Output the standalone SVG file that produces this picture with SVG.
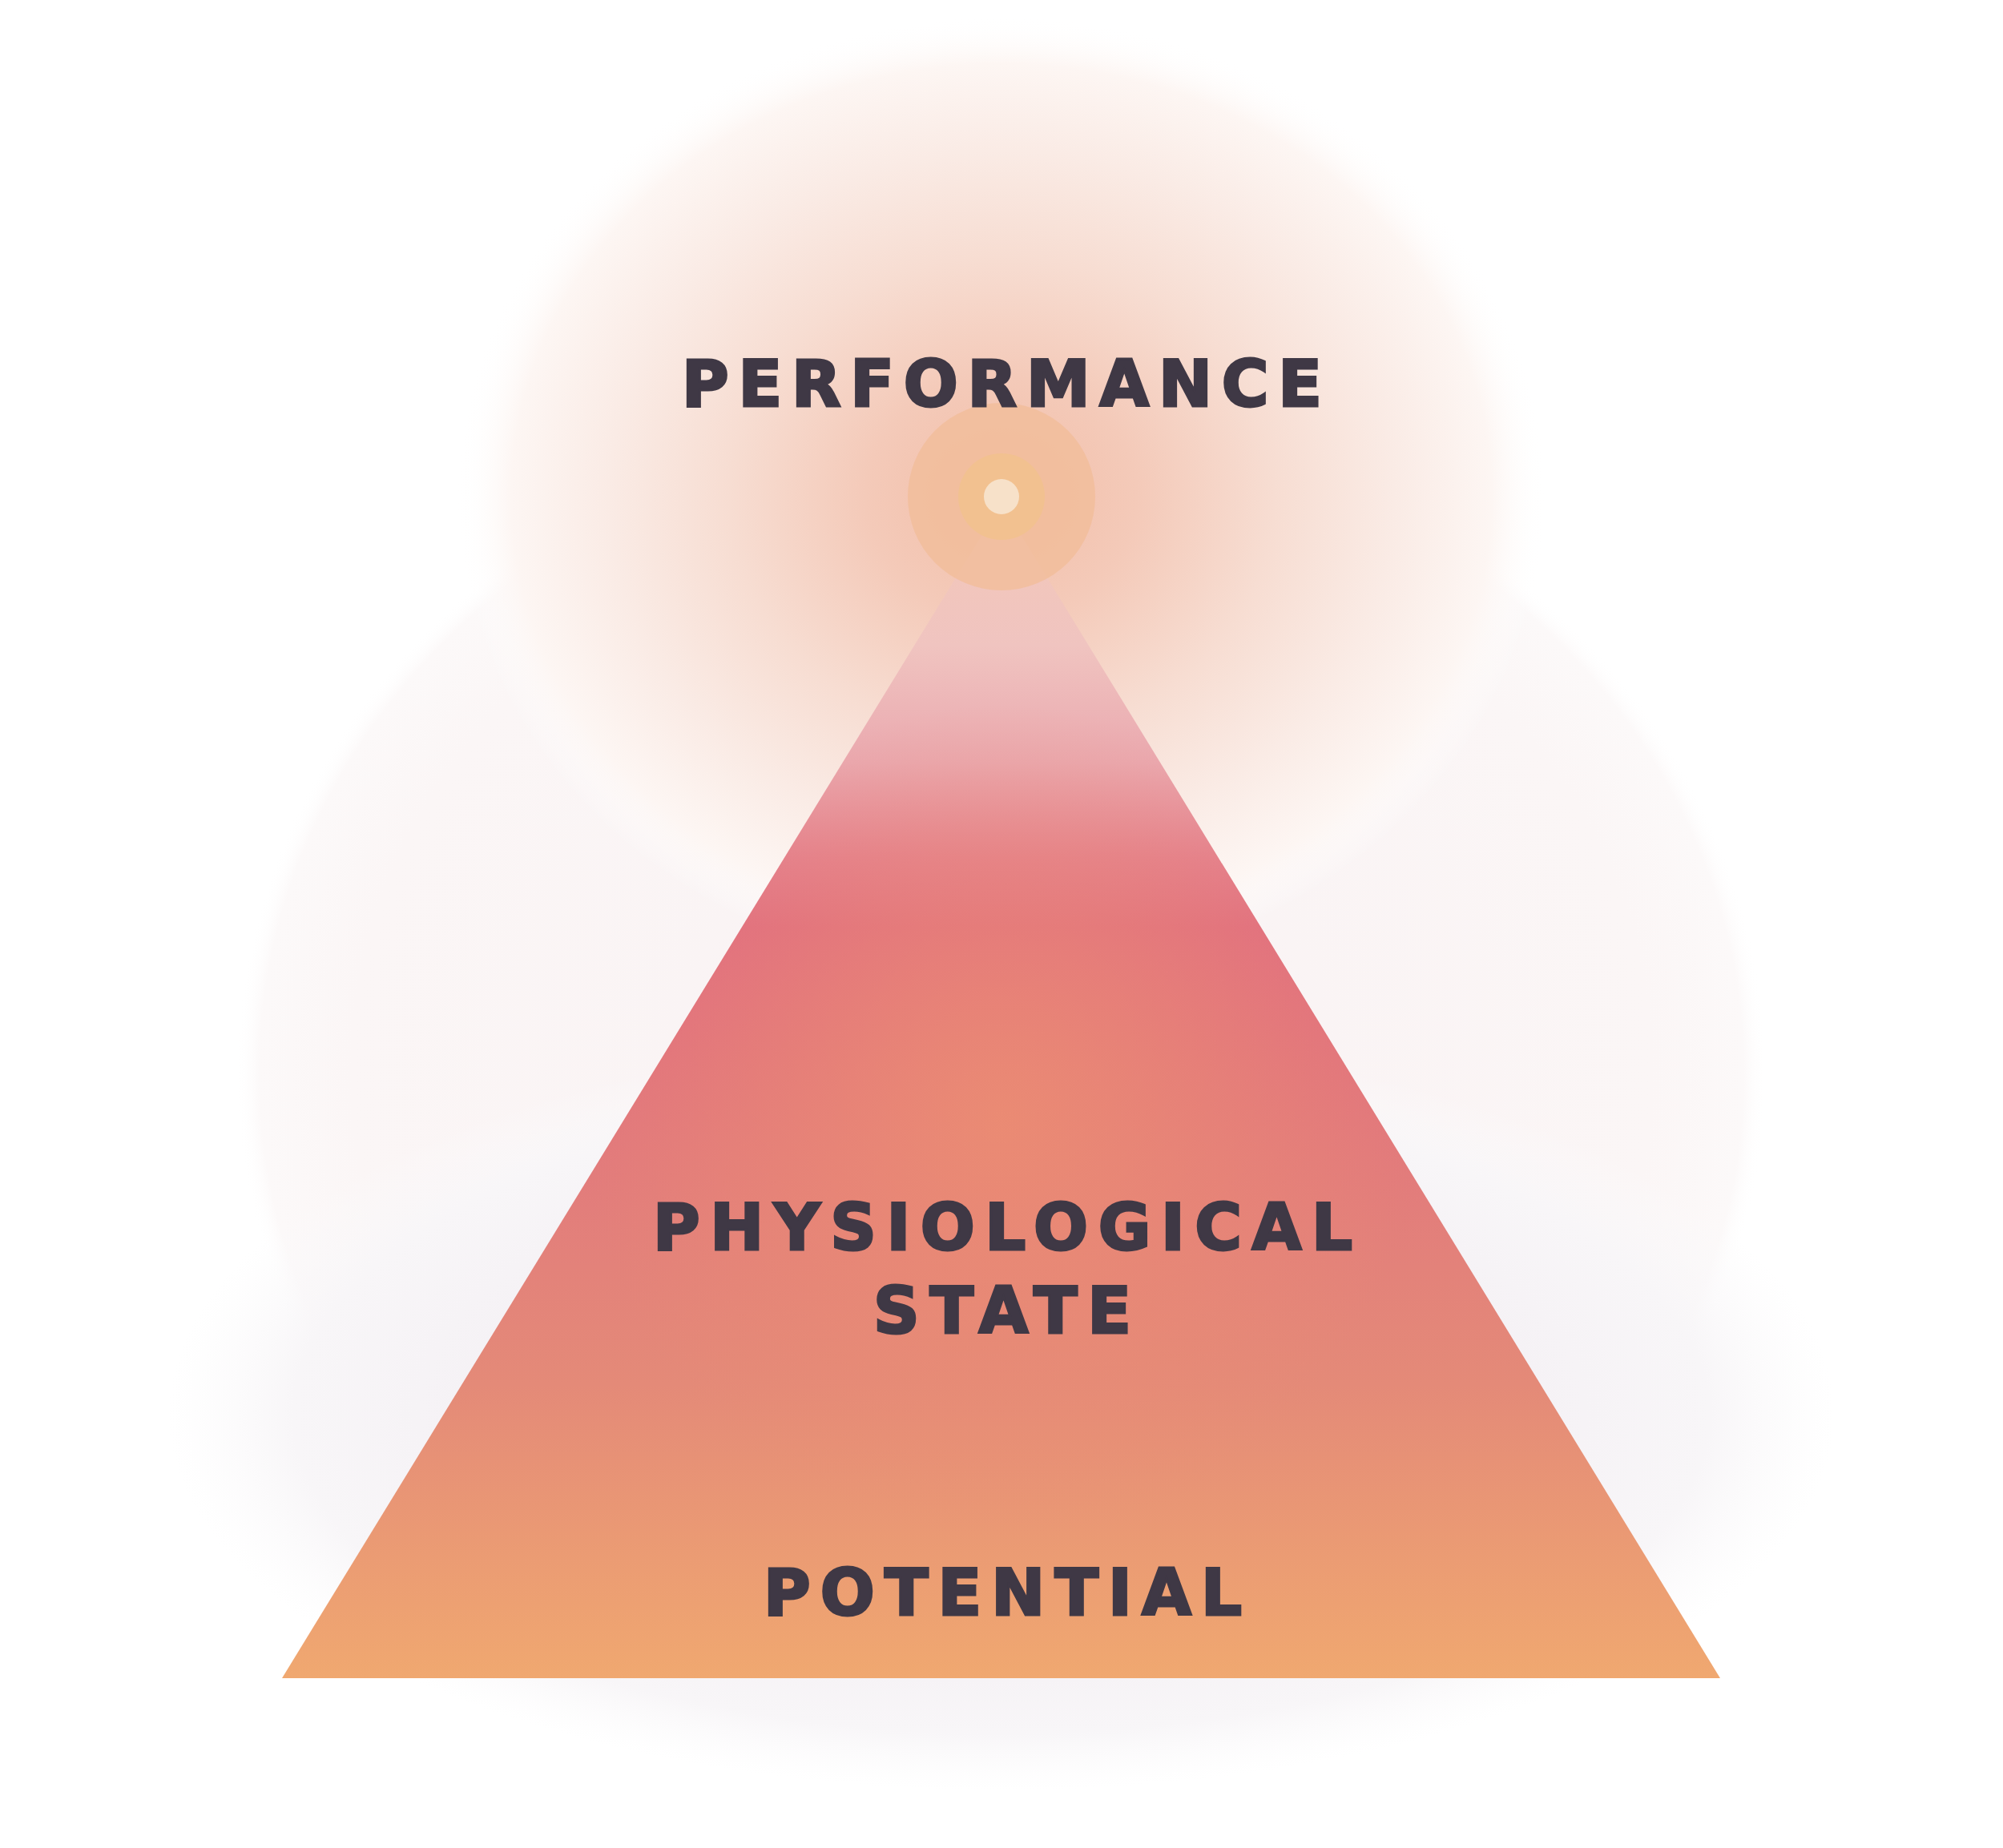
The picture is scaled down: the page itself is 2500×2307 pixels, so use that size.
<svg xmlns="http://www.w3.org/2000/svg" width="2500" height="2307" viewBox="0 0 2500 2307">
<defs>
<style>
.lbl{font-family:"DejaVu Sans","Liberation Sans",sans-serif;font-weight:bold;font-size:80px;fill:#3f3845;stroke:#3f3845;stroke-width:3;stroke-linejoin:miter}
</style>
<radialGradient id="topGlow" cx="0.5" cy="0.5" r="0.5">
<stop offset="0" stop-color="#f2bea8"/>
<stop offset="0.25" stop-color="#f4cab9"/>
<stop offset="0.5" stop-color="#f7ddd2"/>
<stop offset="0.72" stop-color="#faebe5"/>
<stop offset="0.9" stop-color="#fdf6f3"/>
<stop offset="1" stop-color="#ffffff" stop-opacity="0"/>
</radialGradient>
<radialGradient id="pinkHalo" cx="0.5" cy="0.5" r="0.5">
<stop offset="0" stop-color="#f9f2f3"/>
<stop offset="0.85" stop-color="#fbf6f6"/>
<stop offset="0.97" stop-color="#fcf9f9"/>
<stop offset="1" stop-color="#ffffff" stop-opacity="0"/>
</radialGradient>
<radialGradient id="lavGlow" cx="0.5" cy="0.5" r="0.5">
<stop offset="0" stop-color="#f1ebf1"/>
<stop offset="0.55" stop-color="#f4f0f4"/>
<stop offset="0.85" stop-color="#f8f6f8"/>
<stop offset="1" stop-color="#fbfafb" stop-opacity="0"/>
</radialGradient>
<linearGradient id="triGrad" x1="0" y1="630" x2="0" y2="2095" gradientUnits="userSpaceOnUse">
<stop offset="0" stop-color="#f3c8b8"/>
<stop offset="0.12" stop-color="#f0c4c0"/>
<stop offset="0.22" stop-color="#eaa8af"/>
<stop offset="0.3" stop-color="#e4808f"/>
<stop offset="0.36" stop-color="#e06d81"/>
<stop offset="0.45" stop-color="#e1727e"/>
<stop offset="0.75" stop-color="#e48a78"/>
<stop offset="1" stop-color="#f0a870"/>
</linearGradient>
<radialGradient id="triGlow" cx="1250" cy="1400" r="520" gradientUnits="userSpaceOnUse">
<stop offset="0" stop-color="#ec8e72" stop-opacity="0.85"/>
<stop offset="1" stop-color="#ec8e72" stop-opacity="0"/>
</radialGradient>
</defs>
<rect width="2500" height="2307" fill="#ffffff"/>
<g id="background">
<ellipse cx="1250" cy="1340" rx="955" ry="840" fill="url(#pinkHalo)"/>
<ellipse cx="1250" cy="1765" rx="1040" ry="470" fill="url(#lavGlow)"/>
<ellipse cx="1250" cy="620" rx="680" ry="600" fill="url(#topGlow)"/>
</g>
<g id="pyramid">
<polygon points="1250,628 2147,2095 352,2095" fill="url(#triGrad)"/>
<polygon points="1250,628 2147,2095 352,2095" fill="url(#triGlow)"/>
</g>
<g id="peak">
<circle cx="1250" cy="620" r="117" fill="#f2bc98" fill-opacity="0.75"/>
<circle cx="1250" cy="620" r="54" fill="#f2c190"/>
<circle cx="1250" cy="620" r="22" fill="#f7e1c9"/>
</g>
<g id="labels">
<text id="performance" class="lbl" x="851" y="507" textLength="799" lengthAdjust="spacing">PERFORMANCE</text>
<text id="physiological" class="lbl" x="815" y="1560" textLength="873" lengthAdjust="spacing">PHYSIOLOGICAL</text>
<text id="state" class="lbl" x="1090" y="1664" textLength="322" lengthAdjust="spacing">STATE</text>
<text id="potential" class="lbl" x="953" y="2016" textLength="597" lengthAdjust="spacing">POTENTIAL</text>
</g>
</svg>
